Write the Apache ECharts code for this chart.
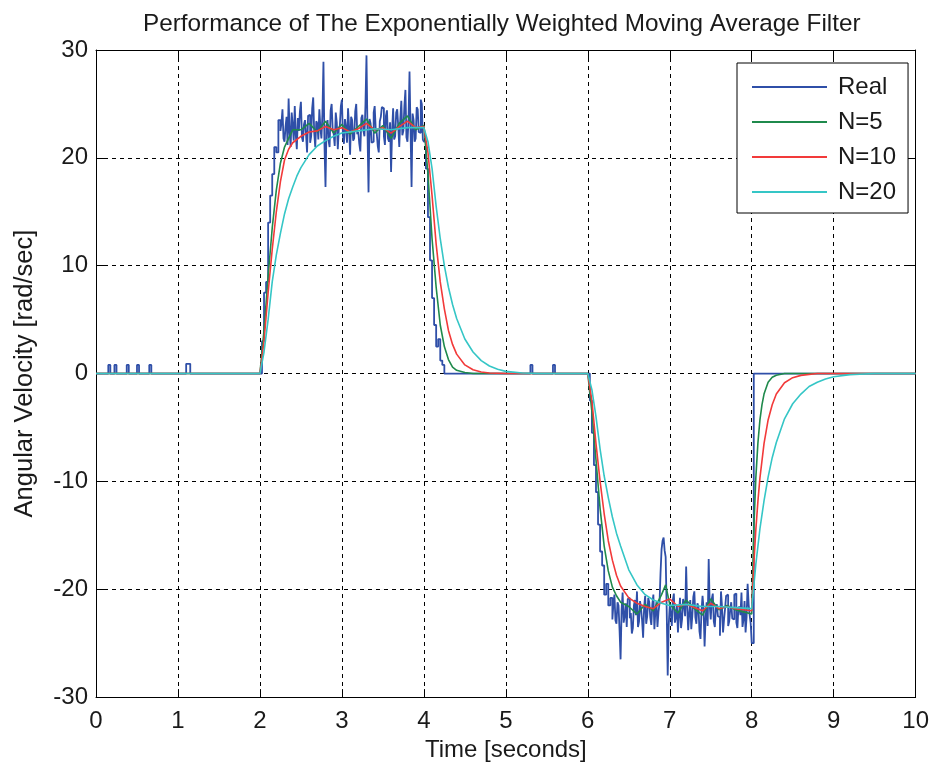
<!DOCTYPE html>
<html>
<head>
<meta charset="utf-8">
<script src="https://cdn.jsdelivr.net/npm/echarts@6/dist/echarts.min.js"></script>
<style>html,body{margin:0;padding:0;background:#fff;}#c{width:932px;height:767px;}</style>
</head>
<body>
<div id="c"></div>
<script>
// ---- data ----
const xTicks = [0, 10, 1];
const yTicks = [-30, 30, 10];
const seriesNames = ['Real', 'N=5', 'N=10', 'N=20'];

// Real signal: quiet parts as [t, v] pairs, active parts as evenly sampled values
const realQuietA = [[0,0],[0.15,0.8],[0.175,0],[0.225,0.8],[0.25,0],[0.375,0.8],[0.4,0],[0.5,0.8],[0.525,0],[0.65,0.8],[0.675,0],[1.1,0.9],[1.15,0]];
const realRiseA = {start: 2.0, dt: 0.025, v: [0,3,7.5,8.5,14,16.5,18.5,21,20.5,23.5]};
const realHighA = {start: 2.25, dt: 0.0125, v: [
  22.5,23.2,24.5,21.8,21.5,22.9,23.8,21.2,25.5,22.4,21,24.2,23,21.6,24.8,22.1,20.8,23.7,22.5,24.3,
  25.2,21.9,21.5,23.1,23.5,22.2,20.5,23.9,24,21.4,22,24.6,25.6,22.3,21,23.4,23.2,21.7,24.5,22.8,
  21.8,24.1,28.9,21.2,17.3,23,23.5,21.6,21,24.4,25,22.6,22.2,21.1,24.2,23.3,20.8,22.7,23,24.8,
  25.4,22.1,21.3,23.6,22.8,21.4,24.6,22.9,20.3,23.8,23.5,21.6,21.8,24.3,25,22.2,22.4,21.3,20.6,23.7,
  24,22.5,22,24.9,29.5,22.4,16.8,23.6,23.2,21.4,21.5,24.2,24.8,22.7,22.3,21.1,20.5,23.4,23.8,24.7,
  24.6,22,21.2,23.9,24.4,21.8,21.5,23.3,18.7,22.5,24.6,21.7,22,24.2,24.5,22.9,21,23.6,25.3,22.1,
  22.5,24.8,26.3,21.9,21.5,23.4,28,22.6,17.3,24.1,23.5,21.5,21.8,24.7,24.5,22.4,22.3,25.4,25,21.7,
  21.5]};
const realFallA = {start: 4.025, dt: 0.025, v: [19,14.5,10.5,7,4.5,2.5,3.2,1.2,0.8,0]};
const realQuietB = [[5.3,0.8],[5.325,0],[5.575,0.8],[5.6,0]];
const realFallB = {start: 6.0, dt: 0.025, v: [0,-2.5,-5.5,-8.5,-11,-14,-16.5,-17.8,-20.5,-19.5,-21.5,-20.8]};
const realLowB = {start: 6.3, dt: 0.0125, v: [
  -22.8,-21.4,-20.5,-22.9,-23.2,-21.2,-21.5,-23.8,-26.5,-21.9,-20.3,-23.1,-22.5,-21.3,-23.5,-20.9,-20.8,-22.7,-22.2,-24.1,
  -23.6,-21.5,-21,-22.4,-20.2,-23.5,-23,-21.1,-21.8,-22.9,-24.5,-21.6,-20.6,-23.2,-22.5,-20.8,-21.2,-22.6,-23.3,-21.4,
  -20.5,-23.7,-22,-21.2,-23.5,-22.1,-21.3,-18.5,-16.3,-15.5,-15.2,-16.4,-17,-21.8,-28,-23.3,-21.5,-22.2,-23.4,-21,
  -20.4,-23.1,-22.6,-21.5,-24,-22.4,-20.8,-23.6,-22.8,-20.9,-21.5,-22.5,-17.9,-21.6,-23.8,-22.2,-21,-23.7,-22.5,-20.7,
  -20.2,-22.6,-23.2,-21.3,-21.6,-23.9,-24.6,-22,-20.6,-21.8,-25.3,-22.7,-21.2,-23.4,-17.2,-21.5,-22.8,-20.9,-20.4,-23,
  -23.5,-21.7,-21.4,-22.5,-22.6,-24.3,-20.2,-21.6,-24,-22.8,-21.8,-20.6,-20.5,-23.4,-23,-21.9,-21.2,-22.7,-22.8,-20.5,
  -20.4,-23.1,-23.6,-21.8,-21.6,-22.4,-20.3,-23.5,-22.8,-21.1,-24,-22.6,-19.5,-21.4,-22.4,-23.2,-25]};
const realQuietC = [[8.025,0],[10,0]];

const n5 = [[0,0],[2.0,0],[2.05,4],[2.1,9],[2.15,13.5],[2.2,17],[2.25,19.5],[2.3,21],[2.35,21.8],[2.4,22.6],[2.5,22.6],[2.6,23.2],[2.7,22.4],[2.8,23.4],[2.9,22.3],[3.0,23.1],[3.1,22.2],[3.2,22.9],[3.3,23.6],[3.4,22.3],[3.5,23],[3.6,21.8],[3.7,23.2],[3.8,23.9],[3.9,22.6],[4.0,23],[4.05,18.5],[4.1,12.5],[4.15,8],[4.2,4.5],[4.25,2.5],[4.3,1.3],[4.35,0.6],[4.4,0.3],[4.5,0.1],[4.6,0],[6.0,0],[6.05,-3.5],[6.1,-8],[6.15,-12.5],[6.2,-16],[6.25,-18.3],[6.3,-19.8],[6.35,-20.6],[6.4,-21.2],[6.5,-21.6],[6.6,-22.3],[6.7,-21.4],[6.8,-22],[6.9,-20.5],[6.95,-19.6],[7.0,-21.4],[7.1,-22.2],[7.2,-21],[7.3,-21.8],[7.4,-22.4],[7.5,-20.9],[7.6,-21.9],[7.7,-21.5],[7.8,-21.9],[7.9,-22.1],[8.0,-22.3],[8.025,-14.5],[8.05,-9.7],[8.075,-6.5],[8.1,-4.3],[8.125,-2.9],[8.15,-1.9],[8.2,-0.8],[8.25,-0.35],[8.3,-0.15],[8.4,0],[10,0]];
const n10 = [[0,0],[2.0,0],[2.05,3],[2.1,7.5],[2.15,11.5],[2.2,15],[2.25,17.8],[2.3,19.8],[2.35,20.8],[2.4,21.4],[2.5,22],[2.6,22.4],[2.7,22.5],[2.8,22.9],[2.9,22.6],[3.0,22.8],[3.1,22.4],[3.2,22.7],[3.3,23.2],[3.4,22.6],[3.5,22.8],[3.6,22.3],[3.7,22.9],[3.8,23.4],[3.9,22.8],[4.0,22.9],[4.05,20.5],[4.1,16.5],[4.15,12],[4.2,8.5],[4.25,6],[4.3,4],[4.35,2.7],[4.4,1.8],[4.5,0.8],[4.6,0.35],[4.7,0.15],[4.8,0.05],[5.0,0],[6.0,0],[6.05,-2.5],[6.1,-6.5],[6.15,-10],[6.2,-13],[6.25,-15.5],[6.3,-17.3],[6.35,-18.7],[6.4,-19.7],[6.5,-20.8],[6.6,-21.3],[6.7,-21.6],[6.8,-21.8],[6.9,-21.2],[7.0,-20.9],[7.1,-21.6],[7.2,-21.4],[7.3,-21.7],[7.4,-22],[7.5,-21.3],[7.6,-21.8],[7.7,-21.6],[7.8,-21.8],[7.9,-21.9],[8.0,-22],[8.025,-17.8],[8.05,-14.5],[8.075,-11.9],[8.1,-9.7],[8.15,-6.5],[8.2,-4.3],[8.25,-2.9],[8.3,-1.9],[8.4,-0.85],[8.5,-0.38],[8.6,-0.17],[8.8,0],[10,0]];
const n20 = [[0,0],[2.0,0],[2.05,2],[2.1,5],[2.15,8.5],[2.2,11],[2.25,13],[2.3,14.8],[2.35,16.2],[2.4,17.3],[2.45,18.3],[2.5,19.1],[2.6,20.3],[2.7,21.1],[2.8,21.6],[2.9,22],[3.0,22.3],[3.2,22.5],[3.4,22.7],[3.6,22.6],[3.8,22.8],[4.0,22.8],[4.05,21.5],[4.1,19],[4.15,15.5],[4.2,12.5],[4.25,10],[4.3,8],[4.35,6.4],[4.4,5.1],[4.5,3.2],[4.6,2],[4.7,1.2],[4.8,0.7],[4.9,0.4],[5.0,0.2],[5.2,0.05],[5.4,0],[6.0,0],[6.05,-1.5],[6.1,-4],[6.15,-7],[6.2,-9.5],[6.25,-11.5],[6.3,-13.3],[6.35,-14.8],[6.4,-16],[6.5,-18.2],[6.6,-19.6],[6.7,-20.5],[6.8,-21],[6.9,-21.3],[7.0,-21.5],[7.2,-21.4],[7.4,-21.6],[7.6,-21.6],[7.8,-21.7],[8.0,-21.8],[8.05,-17.7],[8.1,-14.4],[8.15,-11.8],[8.2,-9.6],[8.25,-7.8],[8.3,-6.4],[8.4,-4.2],[8.5,-2.8],[8.6,-1.9],[8.7,-1.2],[8.8,-0.8],[8.9,-0.5],[9.0,-0.3],[9.2,-0.1],[9.5,0],[10,0]];

// ---- build ----
function sampled(seg) {
  return seg.v.map((v, i) => [+(seg.start + i * seg.dt).toFixed(4), v]);
}
const realData = [].concat(realQuietA, sampled(realRiseA), sampled(realHighA), sampled(realFallA),
  realQuietB, sampled(realFallB), sampled(realLowB), realQuietC);

const FONT = 'Liberation Sans, Arial, Helvetica, sans-serif';
const TXT = '#1a1a1a';
const colors = ['#2f4fa8', '#1f8a4c', '#f23a3a', '#35c6c6'];

const chart = echarts.init(document.getElementById('c'), null, {renderer: 'canvas'});
const frameAxis = {
  axisLine: {show: true, onZero: false, lineStyle: {color: '#000', width: 1}},
  axisTick: {show: true, inside: true, length: 8, lineStyle: {color: '#000', width: 1}},
};
chart.setOption({
  animation: false,
  backgroundColor: '#fff',
  color: colors,
  title: {
    text: 'Performance of The Exponentially Weighted Moving Average Filter',
    left: 143, top: 12, padding: 0,
    textStyle: {fontFamily: FONT, fontSize: 24.3, fontWeight: 'normal', color: TXT}
  },
  grid: {left: 96, right: 15, top: 50, bottom: 69, containLabel: false},
  legend: {
    orient: 'vertical', left: 737, top: 63,
    padding: [12, 12, 9, 15],
    icon: 'rect',
    itemWidth: 75, itemHeight: 2, itemGap: 11,
    backgroundColor: '#fff', borderColor: '#000', borderWidth: 1, borderRadius: 0,
    textStyle: {fontFamily: FONT, fontSize: 24, color: TXT, padding: [0, 0, 0, 6]},
    data: seriesNames
  },
  xAxis: [
    Object.assign({
      type: 'value', min: xTicks[0], max: xTicks[1], interval: xTicks[2], position: 'bottom',
      axisLabel: {fontFamily: FONT, fontSize: 24, color: TXT, margin: 12},
      splitLine: {show: true, lineStyle: {color: '#000', type: [4, 4], width: 1}},
      name: 'Time [seconds]', nameLocation: 'middle', nameGap: 40,
      nameTextStyle: {fontFamily: FONT, fontSize: 24, color: TXT}
    }, frameAxis),
    Object.assign({
      type: 'value', min: xTicks[0], max: xTicks[1], interval: xTicks[2], position: 'top',
      axisLabel: {show: false}, splitLine: {show: false}
    }, frameAxis)
  ],
  yAxis: [
    Object.assign({
      type: 'value', min: yTicks[0], max: yTicks[1], interval: yTicks[2], position: 'left',
      axisLabel: {fontFamily: FONT, fontSize: 24, color: TXT, margin: 8},
      splitLine: {show: true, lineStyle: {color: '#000', type: [4, 4], width: 1}},
      name: 'Angular Velocity [rad/sec]', nameLocation: 'middle', nameGap: 58, nameRotate: 90,
      nameTextStyle: {fontFamily: FONT, fontSize: 25.5, color: TXT}
    }, frameAxis),
    Object.assign({
      type: 'value', min: yTicks[0], max: yTicks[1], interval: yTicks[2], position: 'right',
      axisLabel: {show: false}, splitLine: {show: false}
    }, frameAxis)
  ],
  series: [
    {name: seriesNames[0], type: 'line', data: realData, step: 'end', symbol: 'none',
     lineStyle: {width: 1.8, color: colors[0]}, itemStyle: {color: colors[0]}},
    {name: seriesNames[1], type: 'line', data: n5, symbol: 'none',
     lineStyle: {width: 1.6, color: colors[1]}, itemStyle: {color: colors[1]}},
    {name: seriesNames[2], type: 'line', data: n10, symbol: 'none',
     lineStyle: {width: 1.6, color: colors[2]}, itemStyle: {color: colors[2]}},
    {name: seriesNames[3], type: 'line', data: n20, symbol: 'none',
     lineStyle: {width: 1.6, color: colors[3]}, itemStyle: {color: colors[3]}}
  ]
});
</script>
</body>
</html>
